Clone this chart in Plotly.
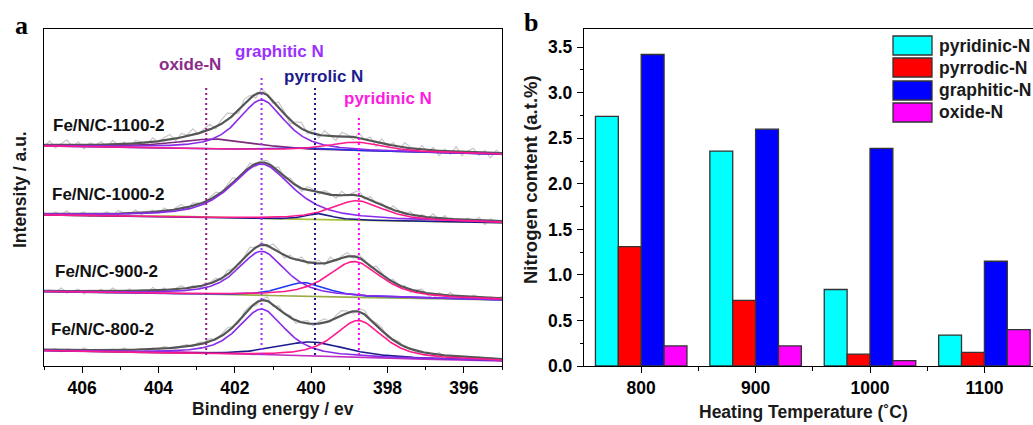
import numpy as np
import plotly.graph_objects as go

W, H = 1033, 425

# ---------------- panel a: N 1s XPS spectra and fits ----------------
samples = ["Fe/N/C-800-2", "Fe/N/C-900-2", "Fe/N/C-1000-2", "Fe/N/C-1100-2"]

# linear background (a.u.) at the high- and low-energy ends of each stacked trace
bg_at_407 = [15.3, 74.3, 151.0, 220.0]
bg_at_395 = [5.0, 66.0, 143.3, 211.7]

# fitted components: centre (eV), height above background (a.u.), FWHM (eV)
graphitic_center = [401.30, 401.30, 401.30, 401.30]
graphitic_height = [46.5, 44.3, 54.5, 50.0]
graphitic_fwhm = [1.45, 1.47, 1.90, 1.45]

pyridinic_center = [398.76, 398.87, 398.80, 398.82]
pyridinic_height = [37.3, 35.8, 19.5, 9.5]
pyridinic_fwhm = [1.50, 1.65, 1.65, 1.80]

pyrrolic_center = [400.00, 400.18, 399.80, 399.90]
pyrrolic_height = [14.7, 13.8, 6.0, 3.0]
pyrrolic_fwhm = [2.20, 1.40, 0.80, 2.00]

oxide_center = [402.80, 402.80, 403.20, 402.50]
oxide_height = [2.0, 1.0, 1.5, 10.0]
oxide_fwhm = [2.50, 2.50, 1.50, 2.60]

# measured counts minus fitted envelope, 0.15 eV steps from 407 eV down to 395 eV
resid_800 = [0, -1, 1, -2, 1, 0, -1, 2, -1, 1,
             -2, 0, 1, -1, 2, -1, 0, 1, -2, 1,
             -1, 2, 0, -1, 1, 2, -1, 2, 1, 3,
             -1, 2, 4, 1, -2, 3, 2, -3, 1, 4,
             -2, 3, -1, 2, -3, 1, 3, -2, 2, 4,
             -1, 3, 5, 2, -2, 3, 4, -1, 2, 3,
             -2, 1, 2, -1, 1, -2, 0, 1, -1, 2,
             -1, 0, -2, 1, -1, 0, 1, -2, 1, 0,
             -1]
resid_900 = [-2, 1, -1, 3, -2, 0, 2, -3, 1, -1,
             2, -2, 3, -1, 0, 2, -3, 1, -2, 3,
             -1, 2, -2, 1, 3, -1, 2, -3, 2, 1,
             3, -2, 4, 1, -3, 2, 5, -1, 3, -2,
             4, 2, -3, 3, -1, 4, -2, 1, 3, -2,
             5, -1, 2, 4, -2, 3, 1, -3, 4, 2,
             -2, 3, -1, 2, -3, 1, 3, -2, -4, 2,
             -1, 3, -2, 1, -3, 2, 0, -2, 1, -1,
             2]
resid_1000 = [1, -2, 2, -1, 3, -2, 0, 2, -3, 1,
              -1, 2, -2, 3, 0, -1, 3, -2, 1, 2,
              -2, 3, -1, 2, 4, -2, 3, 1, -3, 2,
              4, -1, 3, 5, -2, 1, 4, -3, 2, 3,
              -1, 4, -2, 3, 1, -3, 4, 2, -2, 3,
              1, -3, 4, -1, 2, 5, -2, 3, -1, 2,
              -3, 4, 1, -2, 3, -4, 2, -1, 4, -2,
              3, -3, 1, -2, 2, -1, 3, -4, 2, -1,
              1]
resid_1100 = [-2, 4, -3, 1, 5, -2, 3, -4, 2, 0,
              3, -3, 4, -1, 2, -4, 3, 1, -2, 4,
              -1, 3, 5, -2, 4, 1, 6, -1, 3, 5,
              -2, 4, 7, 2, -3, 5, 3, -4, 4, 1,
              -3, 5, 2, -4, 3, 6, -2, 4, -3, 5,
              1, -4, 4, 2, -3, 5, -1, 3, -5, 4,
              -2, 3, -4, 5, 1, -3, 4, -2, 3, -5,
              2, -3, 5, -4, 1, 4, -3, 2, -5, 3,
              -2]
residuals = [resid_800, resid_900, resid_1000, resid_1100]

# reference binding energies marked with dotted lines
ref_names = ["oxide-N", "graphitic N", "pyrrolic N", "pyridinic N"]
ref_energy = [402.75, 401.30, 399.90, 398.75]

# ---------------- panel b: nitrogen species content ----------------
temperatures = [800, 900, 1000, 1100]
species = ["pyridinic-N", "pyrrodic-N", "graphitic-N", "oxide-N"]
pyridinic_N = [2.74, 2.36, 0.84, 0.34]
pyrrodic_N = [1.31, 0.72, 0.13, 0.15]
graphitic_N = [3.42, 2.60, 2.39, 1.15]
oxide_N = [0.22, 0.22, 0.06, 0.40]
contents = [pyridinic_N, pyrrodic_N, graphitic_N, oxide_N]

# ---------------- styling ----------------
FONT = "Liberation Sans, Arial, sans-serif"
bar_colors = ["#00FFFF", "#FF0000", "#0000FF", "#FF00FF"]
graphitic_color = "#8A2BEA"
pyridinic_color = "#FF1A8C"
pyrrolic_colors = ["#1B1B8C", "#1E3AF0", "#1B1B8C", "#2233E6"]
oxide_colors = ["#C02EC0", "#9AAA44", "#A8C23A", "#7A2A7A"]
ref_colors = ["#8B1A8B", "#9B30FF", "#1C1C8C", "#FF00FF"]
ref_text_colors = ["#8B2C8B", "#9B30FF", "#1C1C8C", "#FF1CE0"]
ref_line_top = [278, 291, 279, 249]
ref_line_bottom = 11
ref_label_px = [(190, 64), (279, 52), (323, 76), (388, 98)]
sample_label_px = [(49, 329), (53, 271), (50, 194), (51, 126)]

# plot-area rectangles in pixels (left, right, top, bottom)
A_BOX = (44, 502, 29, 366)
B_BOX = (584, 1033, 29, 366)


def px(x):
    return x / W


def py(y):
    return 1 - y / H


def pseudo_voigt(e, center, height, fwhm, eta=0.7):
    d = ((e - center) / fwhm) ** 2
    return height * (eta / (1 + 4 * d) + (1 - eta) * np.exp(-4 * np.log(2) * d))


fig = go.Figure()

E = np.linspace(395.0, 407.0, 601)

for i, name in enumerate(samples):
    def background(e):
        return bg_at_395[i] + (bg_at_407[i] - bg_at_395[i]) * (e - 395.0) / 12.0

    def components(e):
        return [
            ("oxide", pseudo_voigt(e, oxide_center[i], oxide_height[i], oxide_fwhm[i]), oxide_colors[i]),
            ("pyrrolic", pseudo_voigt(e, pyrrolic_center[i], pyrrolic_height[i], pyrrolic_fwhm[i]), pyrrolic_colors[i]),
            ("graphitic", pseudo_voigt(e, graphitic_center[i], graphitic_height[i], graphitic_fwhm[i]), graphitic_color),
            ("pyridinic", pseudo_voigt(e, pyridinic_center[i], pyridinic_height[i], pyridinic_fwhm[i]), pyridinic_color),
        ]

    # measured spectrum
    e_raw = np.linspace(407.0, 395.0, len(residuals[i]))
    env_raw = background(e_raw) + sum(c[1] for c in components(e_raw))
    fig.add_trace(go.Scatter(x=e_raw, y=env_raw + np.array(residuals[i]), mode="lines",
                             line=dict(color="#C8C8C8", width=1.2), xaxis="x", yaxis="y",
                             showlegend=False, hoverinfo="skip"))
    # fitted envelope
    comps = components(E)
    envelope = background(E) + sum(c[1] for c in comps)
    fig.add_trace(go.Scatter(x=E, y=envelope, mode="lines",
                             line=dict(color="#555555", width=2.2), xaxis="x", yaxis="y",
                             showlegend=False, hoverinfo="skip"))
    # individual components
    for cname, cy, ccol in comps:
        fig.add_trace(go.Scatter(x=E, y=background(E) + cy, mode="lines",
                                 line=dict(color=ccol, width=1.6), xaxis="x", yaxis="y",
                                 showlegend=False, hoverinfo="skip"))

# dotted reference lines
for j, e0 in enumerate(ref_energy):
    fig.add_trace(go.Scatter(x=[e0, e0], y=[ref_line_bottom, ref_line_top[j]], mode="lines",
                             line=dict(color=ref_colors[j], width=2, dash="2px,3px"),
                             xaxis="x", yaxis="y", showlegend=False, hoverinfo="skip"))

# bars
for k, sp in enumerate(species):
    fig.add_trace(go.Bar(x=temperatures, y=contents[k], name=sp, xaxis="x2", yaxis="y2",
                         marker=dict(color=bar_colors[k], line=dict(color="#333333", width=1.3)),
                         showlegend=False))

axis_common = dict(showline=True, linecolor="#000000", linewidth=1.3, showgrid=False,
                   zeroline=False, ticks="outside", tickcolor="#000000", tickwidth=1.3,
                   automargin=False,
                   tickfont=dict(family=FONT, size=17.5, color="#000000", weight="bold"))

fig.update_layout(
    width=W, height=H, autosize=False,
    margin=dict(l=0, r=0, t=0, b=0, pad=0, autoexpand=False),
    paper_bgcolor="#FFFFFF", plot_bgcolor="#FFFFFF",
    barmode="group", bargap=0.2, bargroupgap=0.0,
    showlegend=False,
    xaxis=dict(domain=[px(A_BOX[0]), px(A_BOX[1])], anchor="y", range=[407, 395],
               tick0=406, dtick=2, ticklen=6, mirror=True,
               minor=dict(dtick=1, tick0=407, ticklen=3, ticks="outside", tickcolor="#000000"),
               **axis_common),
    yaxis=dict(domain=[py(A_BOX[3]), py(A_BOX[2])], anchor="x", range=[0, 337],
               showline=True, linecolor="#000000", linewidth=1.3, mirror=True, automargin=False,
               showgrid=False, zeroline=False, ticks="", showticklabels=False),
    xaxis2=dict(domain=[px(B_BOX[0]), 1.0], anchor="y2", range=[750, 750 + (B_BOX[1] - B_BOX[0]) / 1.144],
                tickvals=temperatures, ticklen=6, mirror=True,
                minor=dict(tickvals=[850, 950, 1050], ticklen=4, ticks="outside", tickcolor="#000000"),
                **axis_common),
    yaxis2=dict(domain=[py(B_BOX[3]), py(B_BOX[2])], anchor="x2", range=[0, 3.7],
                tick0=0, dtick=0.5, tickformat=".1f", ticklen=6, ticklabelstandoff=1,
                minor=dict(dtick=0.25, ticklen=3, ticks="outside", tickcolor="#000000"),
                **axis_common),
)


def label(text, x, y, font, xanchor="center", angle=0):
    return dict(text=text, x=px(x), y=py(y), xref="paper", yref="paper", showarrow=False,
                xanchor=xanchor, yanchor="middle", textangle=angle, font=font)


ann = []
letter_font = dict(family="Liberation Serif, Times New Roman, serif", size=26, color="#000000", weight="bold")
ann.append(label("a", 21, 26, letter_font))
ann.append(label("b", 531, 23, letter_font))

title_font = dict(family=FONT, size=17.5, color="#1A1A1A", weight="bold")
ann.append(label("Binding energy / ev", 273, 409, title_font))
ann.append(label("Intensity / a.u.", 20, 190, title_font, angle=-90))
ann.append(label("Heating Temperature (˚C)", 803, 412, title_font))
ann.append(label("Nitrogen content (a.t.%)", 530, 180, dict(title_font, size=18.5), angle=-90))

for name, (lx, ly) in zip(samples, sample_label_px):
    ann.append(label(name, lx, ly, dict(family=FONT, size=17, color="#111111", weight="bold"),
                     xanchor="left"))
for name, (lx, ly), col in zip(ref_names, ref_label_px, ref_text_colors):
    ann.append(label(name, lx, ly, dict(family=FONT, size=17, color=col, weight="bold")))

# legend for panel b
shapes = []
legend_rows = [(36, 55), (58, 77), (81, 100), (103, 122)]
for k, sp in enumerate(species):
    y0, y1 = legend_rows[k]
    shapes.append(dict(type="rect", xref="paper", yref="paper", x0=px(893), x1=px(932),
                       y0=py(y1), y1=py(y0), fillcolor=bar_colors[k],
                       line=dict(color="#333333", width=1.3)))
    ann.append(label(sp, 937, (y0 + y1) / 2,
                     dict(family=FONT, size=17.5, color="#1A1A1A", weight="bold"), xanchor="left"))

fig.update_layout(annotations=ann, shapes=shapes)

fig.write_html("out.html")
